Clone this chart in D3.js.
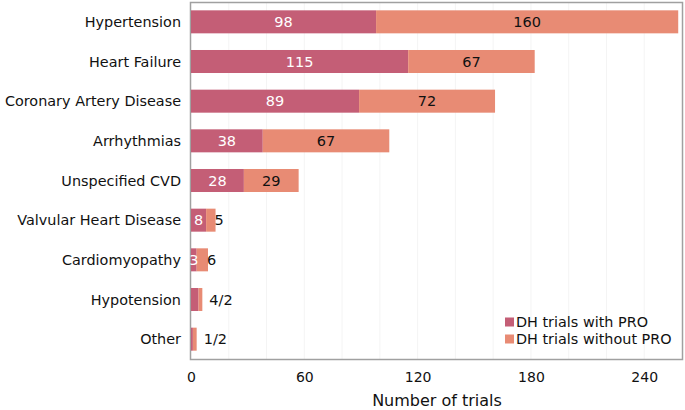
<!DOCTYPE html>
<html><head><meta charset="utf-8">
<script src="https://cdn.jsdelivr.net/npm/d3@7"></script>
<style>body{margin:0;background:#fff}svg{display:block}text{font-family:"DejaVu Sans",Verdana,sans-serif}</style>
</head><body><svg id="c" width="685" height="410"></svg>
<script>
const categories = ["Hypertension","Heart Failure","Coronary Artery Disease","Arrhythmias","Unspecified CVD","Valvular Heart Disease","Cardiomyopathy","Hypotension","Other"];
const withPRO = [98,115,89,38,28,8,3,4,1];
const withoutPRO = [160,67,72,67,29,5,6,2,2];
const withLabels = ["98","115","89","38","28","8","3","",""];
const withoutLabels = ["160","67","72","67","29","5","6","4/2","1/2"];
const xTicks = [0,60,120,180,240];
const seriesNames = ["DH trials with PRO","DH trials without PRO"];
const colors = ["#c45e76","#e88b74"];

const svg = d3.select("#c");
const m = {l:191, r:3, t:2, b:51};
const W = 685, H = 410;
const x = d3.scaleLinear().domain([0,260]).range([m.l, W-m.r]);
const y = d3.scaleBand().domain(categories).range([m.t, H-m.b]).paddingInner(0.42).paddingOuter(0.21);

// faint grid
svg.append("g").selectAll("line").data(d3.range(20,260,20)).join("line")
  .attr("x1",d=>x(d)).attr("x2",d=>x(d)).attr("y1",m.t).attr("y2",H-m.b)
  .attr("stroke","#f4f4f4").attr("stroke-width",1);

// plot frame
svg.append("rect").attr("x",m.l-0.5).attr("y",m.t+0.5).attr("width",W-m.r-m.l+1).attr("height",H-m.b-m.t)
  .attr("fill","none").attr("stroke","#a0a0a0").attr("stroke-width",1.5);

const rows = categories.map((c,i)=>({c,i,a:withPRO[i],b:withoutPRO[i]}));
const g = svg.append("g");
g.selectAll("rect.a").data(rows).join("rect").attr("class","a")
  .attr("x",d=>x(0)).attr("y",d=>y(d.c)).attr("width",d=>x(d.a)-x(0)).attr("height",y.bandwidth()).attr("fill",colors[0]);
g.selectAll("rect.b").data(rows).join("rect").attr("class","b")
  .attr("x",d=>x(d.a)).attr("y",d=>y(d.c)).attr("width",d=>x(d.a+d.b)-x(d.a)).attr("height",y.bandwidth()).attr("fill",colors[1]);

// labels with PRO (white, centered)
g.selectAll("text.a").data(rows).join("text").attr("class","a")
  .attr("x",d=>(x(0)+x(d.a))/2).attr("y",d=>y(d.c)+y.bandwidth()/2).attr("dy","0.36em")
  .attr("text-anchor","middle").attr("fill","#fff").attr("font-size",14.5)
  .text(d=>withLabels[d.i]);
// labels without PRO
g.selectAll("text.b").data(rows).join("text").attr("class","b")
  .each(function(d){
    const w = x(d.a+d.b)-x(d.a);
    const t = d3.select(this).attr("y",y(d.c)+y.bandwidth()/2).attr("dy","0.36em").attr("font-size",14.5).attr("fill","#111").text(withoutLabels[d.i]);
    if (w > 30) t.attr("x",(x(d.a)+x(d.a+d.b))/2).attr("text-anchor","middle");
    else t.attr("x",x(d.a+d.b)+(withoutLabels[d.i].includes("/")?7:-1)).attr("text-anchor","start");
  });

// y axis labels
svg.append("g").selectAll("text").data(categories).join("text")
  .attr("x",m.l-10).attr("y",d=>y(d)+y.bandwidth()/2).attr("dy","0.36em")
  .attr("text-anchor","end").attr("font-size",14.4).attr("fill","#111").text(d=>d);

// x axis
const xa = svg.append("g").attr("transform",`translate(0,${H-m.b})`)
  .call(d3.axisBottom(x).tickValues(xTicks).tickSize(0).tickPadding(13));
xa.select(".domain").remove();
xa.selectAll("text").attr("font-size",14).attr("fill","#111").style("font-family",'"DejaVu Sans",Verdana,sans-serif');

svg.append("text").attr("x",437).attr("y",406).attr("text-anchor","middle").attr("font-size",16).attr("fill","#111").text("Number of trials");

// legend
const lg = svg.append("g").attr("transform","translate(505,322)");
seriesNames.forEach((n,i)=>{
  lg.append("rect").attr("x",0).attr("y",i*17-4.5).attr("width",9).attr("height",9).attr("fill",colors[i]);
  lg.append("text").attr("x",11).attr("y",i*17).attr("dy","0.36em").attr("font-size",14.4).attr("fill","#111").text(n);
});
</script></body></html>
